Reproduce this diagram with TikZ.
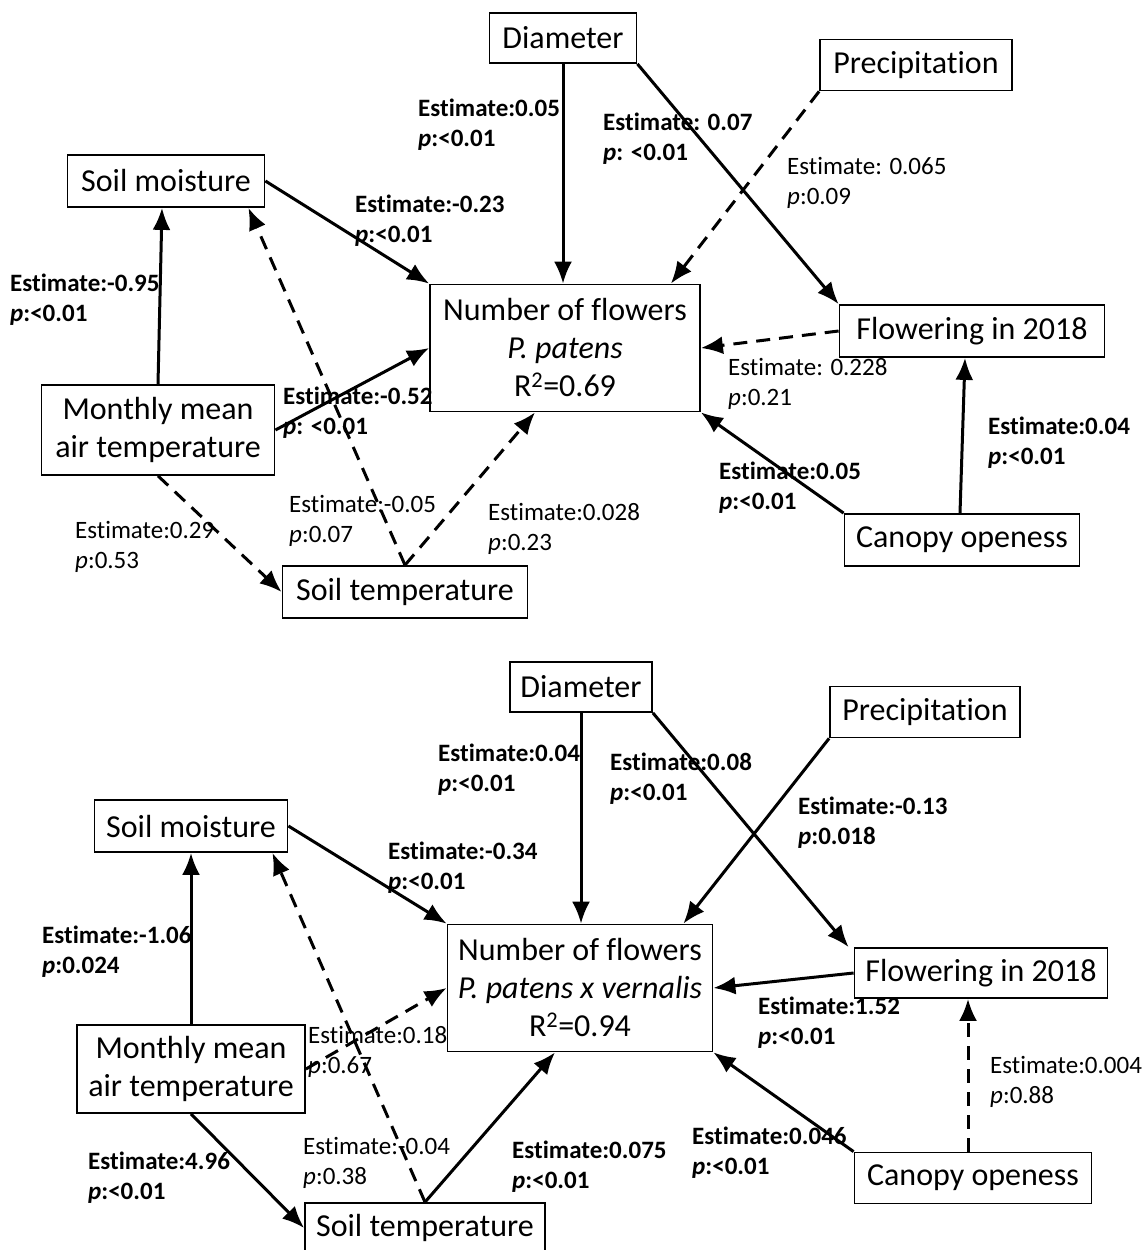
\documentclass[tikz,border=0pt]{standalone}
\usepackage{fontspec}
\setmainfont{Carlito}[Ligatures=NoCommon]
\usetikzlibrary{arrows.meta}

\begin{document}
\begin{tikzpicture}[x=1pt, y=-1pt,
    box/.style={draw, line width=1.8pt, inner sep=0pt, align=center, font=\fontsize{32}{38}\selectfont},
    lab/.style={anchor=west, align=left, inner sep=0pt, font=\fontsize{25}{30}\selectfont},
    labb/.style={lab, font=\fontsize{25}{30}\selectfont\bfseries},
    arr/.style={line width=3pt, -{Latex[length=22pt, width=18pt]}},
    darr/.style={arr, dash pattern=on 14pt off 9pt}]
    \fill[white] (0,0) rectangle (1143,1250);
    \useasboundingbox (0,0) rectangle (1143,1250);
    % P. patens
    \node[box, minimum width=147pt, minimum height=50pt] (dia) at (563,38) {Diameter};
    \node[box, minimum width=192pt, minimum height=51pt] (pre) at (916,65) {Precipitation};
    \node[box, minimum width=197pt, minimum height=52pt] (moi) at (166,181) {Soil moisture};
    \node[box, minimum width=270pt, minimum height=127pt] (num) at (565,348) {Number of flowers\\\textit{P. patens}\\R\textsuperscript{2}=0.69};
    \node[box, minimum width=265pt, minimum height=52pt] (flw) at (972,331) {Flowering in 2018};
    \node[box, minimum width=233pt, minimum height=90pt] (air) at (158,430) {Monthly mean\\air temperature};
    \node[box, minimum width=235pt, minimum height=52pt] (can) at (962,540) {Canopy openess};
    \node[box, minimum width=245pt, minimum height=52pt] (soi) at (405,592) {Soil temperature};
    \draw[arr] (dia.south) -- (dia.south |- num.north);
    \draw[arr] (dia.south east) -- (flw.north west);
    \draw[darr] (pre.south west) -- ([xshift=-30pt]num.north east);
    \draw[arr] (moi.east) -- (num.north west);
    \draw[arr] (air.north) -- ([xshift=-4pt]moi.south);
    \draw[darr] (soi.north) -- ([xshift=-17pt]moi.south east);
    \draw[arr] (air.east) -- (num.west);
    \draw[darr] (air.south) -- (soi.west);
    \draw[darr] (soi.north) -- ([xshift=-30pt]num.south);
    \draw[darr] (flw.west) -- (num.east);
    \draw[arr] (can.north west) -- (num.south east);
    \draw[arr] ([xshift=-2pt]can.north) -- ([xshift=-7pt]flw.south);
    \node[labb] (ldn) at (418,125) {Estimate:0.05\\\textit{p}:<0.01};
    \node[labb] (ldf) at (603,139) {Estimate: 0.07\\\textit{p}: <0.01};
    \node[lab] (lpn) at (787,183) {Estimate: 0.065\\\textit{p}:0.09};
    \node[labb] (lmn) at (355,221) {Estimate:-0.23\\\textit{p}:<0.01};
    \node[labb] (lam) at (10,300) {Estimate:-0.95\\\textit{p}:<0.01};
    \node[labb] (lan) at (283,413) {Estimate:-0.52\\\textit{p}: <0.01};
    \node[lab] (lfn) at (728,384) {Estimate: 0.228\\\textit{p}:0.21};
    \node[labb] (lcf) at (988,443) {Estimate:0.04\\\textit{p}:<0.01};
    \node[labb] (lcn) at (719,488) {Estimate:0.05\\\textit{p}:<0.01};
    \node[lab] (lsm) at (289,521) {Estimate:-0.05\\\textit{p}:0.07};
    \node[lab] (lsn) at (488,529) {Estimate:0.028\\\textit{p}:0.23};
    \node[lab] (las) at (75,547) {Estimate:0.29\\\textit{p}:0.53};
    % P. patens x vernalis
    \node[box, minimum width=142pt, minimum height=50pt] (dia2) at (581,687) {Diameter};
    \node[box, minimum width=190pt, minimum height=51pt] (pre2) at (925,712) {Precipitation};
    \node[box, minimum width=193pt, minimum height=52pt] (moi2) at (191,826) {Soil moisture};
    \node[box, minimum width=265pt, minimum height=127pt] (num2) at (580,988) {Number of flowers\\\textit{P. patens x vernalis}\\R\textsuperscript{2}=0.94};
    \node[box, minimum width=253pt, minimum height=50pt] (flw2) at (981,973) {Flowering in 2018};
    \node[box, minimum width=228pt, minimum height=88pt] (air2) at (191,1069) {Monthly mean\\air temperature};
    \node[box, minimum width=237pt, minimum height=51pt] (can2) at (973,1178) {Canopy openess};
    \node[box, minimum width=240pt, minimum height=50pt] (soi2) at (425,1228) {Soil temperature};
    \draw[arr] (dia2.south) -- (dia2.south |- num2.north);
    \draw[arr] (dia2.south east) -- ([xshift=-5pt]flw2.north west);
    \draw[arr] (pre2.south west) -- ([xshift=-30pt]num2.north east);
    \draw[arr] (moi2.east) -- (num2.north west);
    \draw[arr] (air2.north) -- (moi2.south);
    \draw[darr] (soi2.north) -- ([xshift=-16pt]moi2.south east);
    \draw[darr] (air2.east) -- (num2.west);
    \draw[arr] (air2.south) -- (soi2.west);
    \draw[arr] (soi2.north) -- ([xshift=-25pt]num2.south);
    \draw[arr] (flw2.west) -- (num2.east);
    \draw[arr] (can2.north west) -- (num2.south east);
    \draw[darr] ([xshift=-5pt]can2.north) -- ([xshift=-13pt]flw2.south);
    \node[labb] (ldn2) at (438,770) {Estimate:0.04\\\textit{p}:<0.01};
    \node[labb] (ldf2) at (610,779) {Estimate:0.08\\\textit{p}:<0.01};
    \node[labb] (lpn2) at (798,823) {Estimate:-0.13\\\textit{p}:0.018};
    \node[labb] (lmn2) at (388,868) {Estimate:-0.34\\\textit{p}:<0.01};
    \node[labb] (lam2) at (42,952) {Estimate:-1.06\\\textit{p}:0.024};
    \node[labb] (lfn2) at (758,1023) {Estimate:1.52\\\textit{p}:<0.01};
    \node[lab] (lan2) at (308,1052) {Estimate:0.18\\\textit{p}:0.67};
    \node[lab] (lcf2) at (990,1082) {Estimate:0.004\\\textit{p}:0.88};
    \node[lab] (lsm2) at (303,1163) {Estimate:-0.04\\\textit{p}:0.38};
    \node[labb] (lcn2) at (692,1153) {Estimate:0.046\\\textit{p}:<0.01};
    \node[labb] (lsn2) at (512,1167) {Estimate:0.075\\\textit{p}:<0.01};
    \node[labb] (las2) at (88,1178) {Estimate:4.96\\\textit{p}:<0.01};
\end{tikzpicture}
\end{document}
